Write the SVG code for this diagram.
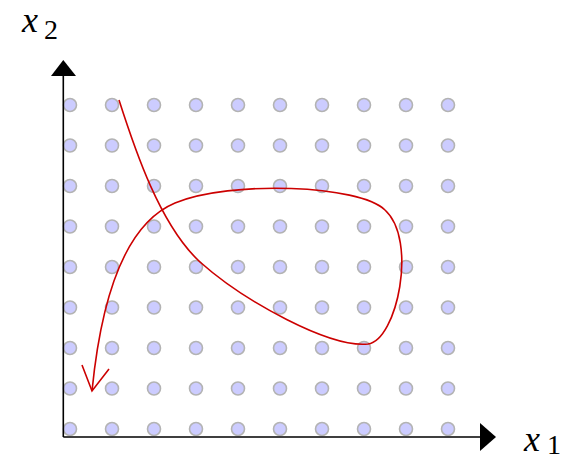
<svg xmlns="http://www.w3.org/2000/svg" width="575" height="460" viewBox="0 0 575 460">
<style>
.dot{fill:#ccccff;stroke:#b3b3b3;stroke-width:1.6}
.axis{stroke:#000;stroke-width:1.6;fill:none}
.curve{stroke:#cc0000;stroke-width:1.6;fill:none}
.lbl{font-family:"Liberation Serif","DejaVu Serif",serif;font-style:italic;font-size:36px;fill:#000}
.sub{font-family:"Liberation Serif","DejaVu Serif",serif;font-size:28px;fill:#000}
</style>
<defs>
<circle id="d" r="6.5" class="dot"/>
</defs>
<g id="grid">
<g id="row1"><use href="#d" x="70" y="105"/><use href="#d" x="112" y="105"/><use href="#d" x="154" y="105"/><use href="#d" x="196" y="105"/><use href="#d" x="238" y="105"/><use href="#d" x="280" y="105"/><use href="#d" x="322" y="105"/><use href="#d" x="364" y="105"/><use href="#d" x="406" y="105"/><use href="#d" x="448" y="105"/></g>
<g id="row2"><use href="#d" x="70" y="145.5"/><use href="#d" x="112" y="145.5"/><use href="#d" x="154" y="145.5"/><use href="#d" x="196" y="145.5"/><use href="#d" x="238" y="145.5"/><use href="#d" x="280" y="145.5"/><use href="#d" x="322" y="145.5"/><use href="#d" x="364" y="145.5"/><use href="#d" x="406" y="145.5"/><use href="#d" x="448" y="145.5"/></g>
<g id="row3"><use href="#d" x="70" y="186"/><use href="#d" x="112" y="186"/><use href="#d" x="154" y="186"/><use href="#d" x="196" y="186"/><use href="#d" x="238" y="186"/><use href="#d" x="280" y="186"/><use href="#d" x="322" y="186"/><use href="#d" x="364" y="186"/><use href="#d" x="406" y="186"/><use href="#d" x="448" y="186"/></g>
<g id="row4"><use href="#d" x="70" y="226.5"/><use href="#d" x="112" y="226.5"/><use href="#d" x="154" y="226.5"/><use href="#d" x="196" y="226.5"/><use href="#d" x="238" y="226.5"/><use href="#d" x="280" y="226.5"/><use href="#d" x="322" y="226.5"/><use href="#d" x="364" y="226.5"/><use href="#d" x="406" y="226.5"/><use href="#d" x="448" y="226.5"/></g>
<g id="row5"><use href="#d" x="70" y="267"/><use href="#d" x="112" y="267"/><use href="#d" x="154" y="267"/><use href="#d" x="196" y="267"/><use href="#d" x="238" y="267"/><use href="#d" x="280" y="267"/><use href="#d" x="322" y="267"/><use href="#d" x="364" y="267"/><use href="#d" x="406" y="267"/><use href="#d" x="448" y="267"/></g>
<g id="row6"><use href="#d" x="70" y="307.5"/><use href="#d" x="112" y="307.5"/><use href="#d" x="154" y="307.5"/><use href="#d" x="196" y="307.5"/><use href="#d" x="238" y="307.5"/><use href="#d" x="280" y="307.5"/><use href="#d" x="322" y="307.5"/><use href="#d" x="364" y="307.5"/><use href="#d" x="406" y="307.5"/><use href="#d" x="448" y="307.5"/></g>
<g id="row7"><use href="#d" x="70" y="348"/><use href="#d" x="112" y="348"/><use href="#d" x="154" y="348"/><use href="#d" x="196" y="348"/><use href="#d" x="238" y="348"/><use href="#d" x="280" y="348"/><use href="#d" x="322" y="348"/><use href="#d" x="364" y="348"/><use href="#d" x="406" y="348"/><use href="#d" x="448" y="348"/></g>
<g id="row8"><use href="#d" x="70" y="388.5"/><use href="#d" x="112" y="388.5"/><use href="#d" x="154" y="388.5"/><use href="#d" x="196" y="388.5"/><use href="#d" x="238" y="388.5"/><use href="#d" x="280" y="388.5"/><use href="#d" x="322" y="388.5"/><use href="#d" x="364" y="388.5"/><use href="#d" x="406" y="388.5"/><use href="#d" x="448" y="388.5"/></g>
<g id="row9"><use href="#d" x="70" y="429"/><use href="#d" x="112" y="429"/><use href="#d" x="154" y="429"/><use href="#d" x="196" y="429"/><use href="#d" x="238" y="429"/><use href="#d" x="280" y="429"/><use href="#d" x="322" y="429"/><use href="#d" x="364" y="429"/><use href="#d" x="406" y="429"/><use href="#d" x="448" y="429"/></g>
</g>
<g id="axes">
<path class="axis" d="M63.3,437 V75 M63.3,437 H481"/>
<polygon points="63.3,60 51,76 76,76" fill="#000"/>
<polygon points="496,437 480,423 480,451" fill="#000"/>
</g>
<g id="labels">
<text class="lbl" x="22" y="32">x</text><text class="sub" x="44" y="39">2</text>
<text class="lbl" x="524" y="451">x</text><text class="sub" x="547" y="454">1</text>
</g>
<g id="connectors">
<path class="curve" d="M119,100 C135,150 160,225 200,262 C245,302 330,348 368,344 C397,340 418,240 385,210 C360,185 230,180 175,203 C120,226 100,310 92,391"/>
<path class="curve" d="M82,365 L92,391 L109,369"/>
</g>
</svg>
